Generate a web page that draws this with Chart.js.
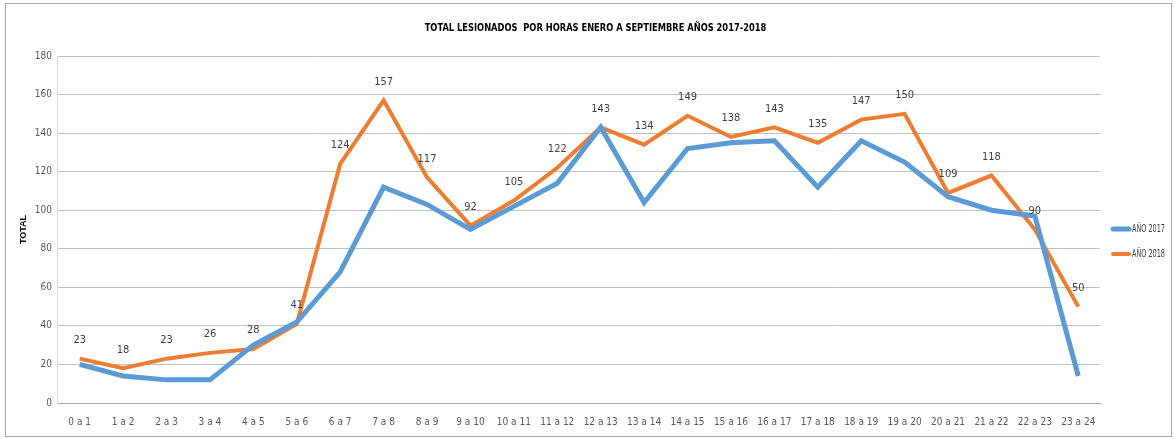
<!DOCTYPE html>
<html>
<head>
<meta charset="utf-8">
<script src="https://cdn.jsdelivr.net/npm/chart.js@4"></script>
<style>
    html, body { margin: 0; padding: 0; background: #fff; }
    .box {
        position: absolute;
        left: 5px; top: 3px;
        width: 1167px; height: 434px;
        border: 1px solid #a6a6a6;
        box-sizing: border-box;
    }
    canvas { display: block; }
</style>
</head>
<body>
<div class="box"><canvas id="lesionadosChart" width="1165" height="432"></canvas></div>
<script>
const horas = ["0 a 1", "1 a 2", "2 a 3", "3 a 4", "4 a 5", "5 a 6", "6 a 7", "7 a 8", "8 a 9", "9 a 10",
    "10 a 11", "11 a 12", "12 a 13", "13 a 14", "14 a 15", "15 a 16", "16 a 17", "17 a 18", "18 a 19",
    "19 a 20", "20 a 21", "21 a 22", "22 a 23", "23 a 24"];
const anio2017 = [20, 14, 12, 12, 30, 42, 68, 112, 103, 90, 102, 114, 143, 104, 132, 135, 136, 112, 136, 125, 107, 100, 97, 14];
const anio2018 = [23, 18, 23, 26, 28, 41, 124, 157, 117, 92, 105, 122, 143, 134, 149, 138, 143, 135, 147, 150, 109, 118, 90, 50];
const yTicks = [0, 20, 40, 60, 80, 100, 120, 140, 160, 180];
const titulo = "TOTAL LESIONADOS  POR HORAS ENERO A SEPTIEMBRE AÑOS 2017-2018";

const narrow = "'DejaVu Sans Condensed', 'Liberation Sans Narrow', 'Liberation Sans', sans-serif";

// etiquetas de valor sobre la serie 2018
const valueLabels = {
    id: "valueLabels",
    afterDatasetsDraw(chart) {
        const ctx = chart.ctx;
        const meta = chart.getDatasetMeta(1);
        ctx.save();
        ctx.font = "11px " + narrow;
        ctx.fillStyle = "#404040";
        ctx.textAlign = "center";
        ctx.textBaseline = "bottom";
        meta.data.forEach(function (pt, i) {
            ctx.fillText(anio2018[i], pt.x, pt.y - 13);
        });
        ctx.restore();
    }
};

// titulo centrado sobre todo el grafico y leyenda a la derecha
const sideLegend = {
    id: "sideLegend",
    afterDraw(chart) {
        const ctx = chart.ctx;
        ctx.save();
        ctx.fillStyle = "#000";
        ctx.font = "bold 11px " + narrow;
        ctx.textAlign = "center";
        ctx.textBaseline = "middle";
        ctx.translate(chart.width / 2 + 7, 24);
        ctx.scale(0.84, 1);
        ctx.fillText(titulo, 0, 0);
        ctx.restore();

        const x0 = chart.chartArea.right + 11;
        let y = 225;
        ctx.save();
        ctx.font = "10px " + narrow;
        ctx.textBaseline = "middle";
        chart.data.datasets.forEach(function (ds) {
            ctx.strokeStyle = ds.borderColor;
            ctx.lineWidth = ds.borderWidth;
            ctx.lineCap = "round";
            ctx.beginPath();
            ctx.moveTo(x0 + 2, y);
            ctx.lineTo(x0 + 18, y);
            ctx.stroke();
            ctx.fillStyle = "#404040";
            ctx.save();
            ctx.translate(x0 + 21, y);
            ctx.scale(0.72, 1);
            ctx.fillText(ds.label, 0, 0);
            ctx.restore();
            y += 25;
        });
        ctx.restore();
    }
};

new Chart(document.getElementById("lesionadosChart"), {
    type: "line",
    data: {
        labels: horas,
        datasets: [{
            label: "AÑO 2017",
            data: anio2017,
            borderColor: "#5b9bd5",
            backgroundColor: "#5b9bd5",
            borderWidth: 5,
            pointRadius: 0,
            tension: 0
        }, {
            label: "AÑO 2018",
            data: anio2018,
            borderColor: "#ed7d31",
            backgroundColor: "#ed7d31",
            borderWidth: 4,
            pointRadius: 0,
            tension: 0
        }]
    },
    options: {
        responsive: false,
        animation: false,
        layout: { padding: { left: 12, right: 71, top: 52, bottom: -5 } },
        plugins: {
            title: { display: false },
            legend: { display: false },
            tooltip: { enabled: false }
        },
        scales: {
            x: {
                offset: true,
                grid: { display: false, drawTicks: false },
                border: { color: "#a6a6a6" },
                ticks: {
                    color: "#595959",
                    font: { family: narrow, size: 10 },
                    padding: 13,
                    maxRotation: 0,
                    autoSkip: false
                }
            },
            y: {
                min: 0,
                max: 180,
                afterBuildTicks(axis) {
                    axis.ticks = yTicks.map(function (v) { return { value: v }; });
                },
                grid: { color: "#bfbfbf", drawTicks: false },
                border: { color: "#d9d9d9" },
                ticks: {
                    color: "#595959",
                    font: { family: narrow, size: 10 },
                    padding: 6
                },
                title: {
                    display: true,
                    text: "TOTAL",
                    color: "#000",
                    font: { family: "'Liberation Sans', Arial, sans-serif", size: 9, weight: "bold" },
                    padding: { top: 0, bottom: 0 }
                }
            }
        }
    },
    plugins: [valueLabels, sideLegend]
});
</script>
</body>
</html>
